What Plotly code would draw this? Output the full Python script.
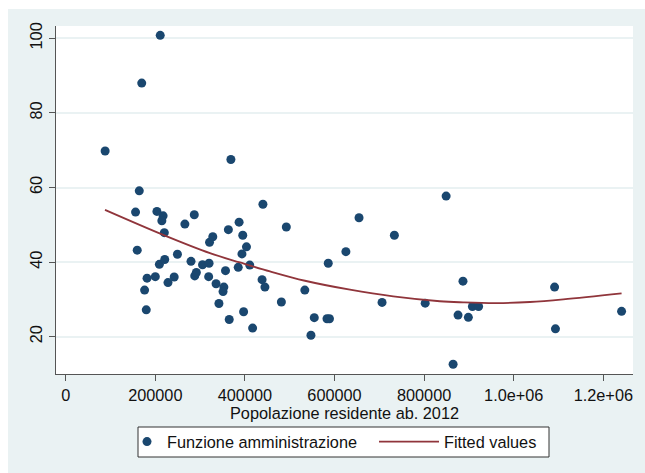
import plotly.graph_objects as go

# ---- data ----
pop = [88000, 211000, 169700, 368700, 164200, 155900, 203600, 217400, 214600, 220100,
       287000, 266000, 159600, 209100, 221000, 249400, 181600, 200000, 176100, 179800,
       228300, 242100, 279700, 288000, 291600, 305400, 320000, 319100, 321000, 328300,
       335600, 342000, 353000, 351200, 356700, 363100, 365000, 385100, 387000, 393400,
       395200, 403500, 410800, 397100, 417200, 440200, 438300, 444700, 481400, 492400,
       533700, 547400, 554800, 583200, 588700, 586000, 625400, 654700, 706100, 733600,
       802400, 849100, 864700, 875700, 886700, 898700, 907800, 921600, 1091200, 1093100,
       1240700]
funz = [69.8, 100.8, 88.0, 67.5, 59.1, 53.4, 53.6, 52.4, 51.1, 47.9,
        52.7, 50.2, 43.2, 39.4, 40.7, 42.1, 35.7, 36.1, 32.5, 27.2,
        34.5, 36.0, 40.2, 36.3, 37.2, 39.3, 39.7, 36.1, 45.3, 46.8,
        34.2, 28.9, 33.3, 32.1, 37.7, 48.7, 24.6, 38.6, 50.7, 42.2,
        47.2, 44.1, 39.2, 26.7, 22.3, 55.5, 35.3, 33.3, 29.3, 49.4,
        32.5, 20.4, 25.1, 24.8, 24.8, 39.7, 42.8, 51.9, 29.2, 47.2,
        29.0, 57.7, 12.6, 25.8, 34.9, 25.2, 28.1, 28.1, 33.3, 22.1,
        26.8]

fit_x = [87700, 221600, 322000, 389000, 456000, 534000, 634500, 731000,
         835000, 887000, 962000, 1036000, 1110600, 1240700]
fit_y = [54.0, 47.1, 42.4, 39.9, 37.5, 35.0, 32.6, 30.8,
         29.5, 29.2, 29.0, 29.3, 30.0, 31.6]

x_tickvals = [0, 200000, 400000, 600000, 800000, 1000000, 1200000]
x_ticktext = ["0", "200000", "400000", "600000", "800000", "1.0e+06", "1.2e+06"]
y_tickvals = [20, 40, 60, 80, 100]

series_names = ["Funzione amministrazione", "Fitted values"]
x_title = "Popolazione residente ab. 2012"

# ---- layout geometry ----
W, H = 645, 473
L, R, T, B = 56, 12, 26, 99
PW, PH = W - L - R, H - T - B


def px_x(p):
    return (p - L) / PW


def px_y(p):
    return (H - B - p) / PH


FONT = "Liberation Sans, Arial, Helvetica, sans-serif"
FS = 16.3
NAVY = "#1A476F"
MAROON = "#90353B"
BG = "#EAF2F3"
AX = "#555555"
TXT = "#111111"

fig = go.Figure()
fig.add_trace(go.Scatter(
    x=pop, y=funz, mode="markers", name=series_names[0],
    marker=dict(color=NAVY, size=9, line=dict(width=0)),
    legend="legend",
))
fig.add_trace(go.Scatter(
    x=fit_x, y=fit_y, mode="lines", name=series_names[1],
    line=dict(color=MAROON, width=1.8, shape="spline"),
    legend="legend2",
))

shapes = [
    # white border at the top and left of the graph region
    dict(type="rect", xref="paper", yref="paper", x0=px_x(0), x1=px_x(W), y0=px_y(9), y1=px_y(0),
         fillcolor="white", line=dict(width=0), layer="above"),
    dict(type="rect", xref="paper", yref="paper", x0=px_x(0), x1=px_x(8), y0=px_y(H), y1=px_y(0),
         fillcolor="white", line=dict(width=0), layer="above"),
    # legend box
    dict(type="rect", xref="paper", yref="paper", x0=px_x(138), x1=px_x(549), y0=px_y(457), y1=px_y(427),
         fillcolor="white", line=dict(color="#333333", width=1), layer="above"),
]

leg_common = dict(orientation="h", yanchor="middle", y=px_y(442), xanchor="left",
                  bgcolor="rgba(0,0,0,0)", borderwidth=0,
                  font=dict(family=FONT, size=FS, color=TXT))

fig.update_layout(
    width=W, height=H,
    margin=dict(l=L, r=R, t=T, b=B, autoexpand=False),
    paper_bgcolor=BG, plot_bgcolor="white",
    font=dict(family=FONT, size=FS, color=TXT),
    showlegend=True,
    legend=dict(leg_common, x=px_x(127), itemwidth=30),
    legend2=dict(leg_common, x=px_x(374), itemwidth=60),
    shapes=shapes,
    xaxis=dict(
        range=[-21650, 1266200], tickvals=x_tickvals, ticktext=x_ticktext,
        showgrid=False, zeroline=False, showline=True, linecolor=AX, linewidth=1,
        ticks="outside", ticklen=6, tickcolor=AX, tickwidth=1,
        tickfont=dict(family=FONT, size=FS, color=TXT),
        title=dict(text=x_title, standoff=2, font=dict(family=FONT, size=FS, color=TXT)),
    ),
    yaxis=dict(
        range=[10, 103.3], tickvals=y_tickvals, tickangle=-90,
        showgrid=True, gridcolor=BG, gridwidth=1.5, zeroline=False,
        showline=True, linecolor=AX, linewidth=1,
        ticks="outside", ticklen=6, tickcolor=AX, tickwidth=1,
        tickfont=dict(family=FONT, size=FS, color=TXT),
    ),
)

fig.write_html("out.html", config={"displayModeBar": False},
               post_script="document.body.style.margin='0';")
